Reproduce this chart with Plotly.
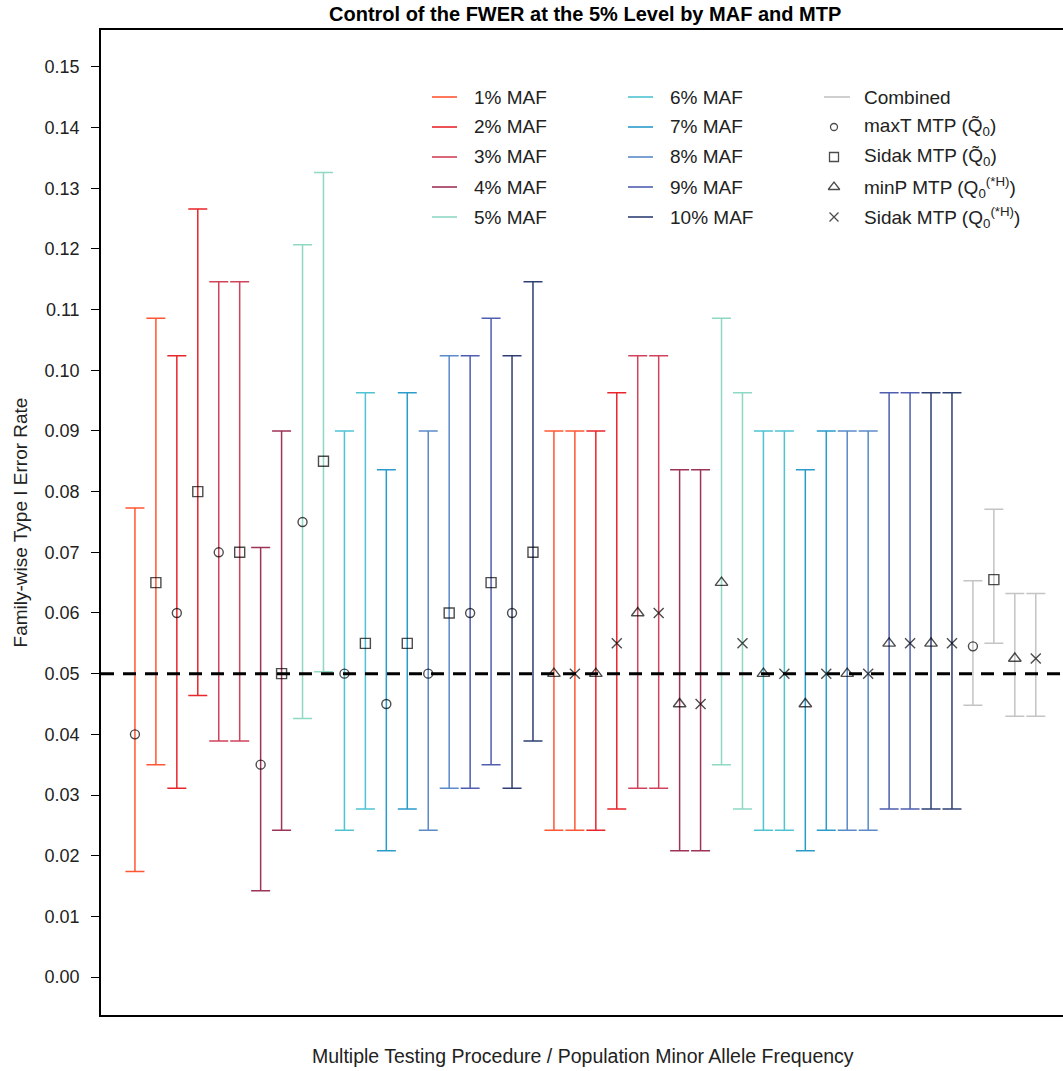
import plotly.graph_objects as go

# Simulation results: family-wise type I error rate with 95% CIs
maf_labels = ["1% MAF", "2% MAF", "3% MAF", "4% MAF", "5% MAF",
              "6% MAF", "7% MAF", "8% MAF", "9% MAF", "10% MAF"]
maf_colors = ["#FF5733", "#E8262B", "#D1435B", "#9E3358", "#8ED8C4",
              "#4EC3D2", "#2A9CCB", "#5B8AC9", "#4F5EB0", "#2E3F73"]
combined_color = "#C4C4C4"

maxT_rate = [0.040, 0.060, 0.070, 0.035, 0.075, 0.050, 0.045, 0.050, 0.060, 0.060]
maxT_lo = [0.0174, 0.0311, 0.0389, 0.0142, 0.0426, 0.0242, 0.0208, 0.0242, 0.0311, 0.0311]
maxT_hi = [0.0773, 0.1024, 0.1146, 0.0708, 0.1207, 0.0900, 0.0836, 0.0900, 0.1024, 0.1024]

sidak_rate = [0.065, 0.080, 0.070, 0.050, 0.085, 0.055, 0.055, 0.060, 0.065, 0.070]
sidak_lo = [0.0350, 0.0464, 0.0389, 0.0242, 0.0503, 0.0277, 0.0277, 0.0311, 0.0350, 0.0389]
sidak_hi = [0.1086, 0.1266, 0.1146, 0.0900, 0.1326, 0.0963, 0.0963, 0.1024, 0.1086, 0.1146]

minP_rate = [0.050, 0.050, 0.060, 0.045, 0.065, 0.050, 0.045, 0.050, 0.055, 0.055]
minP_lo = [0.0242, 0.0242, 0.0311, 0.0208, 0.0350, 0.0242, 0.0208, 0.0242, 0.0277, 0.0277]
minP_hi = [0.0900, 0.0900, 0.1024, 0.0836, 0.1086, 0.0900, 0.0836, 0.0900, 0.0963, 0.0963]

sidakH_rate = [0.050, 0.055, 0.060, 0.045, 0.055, 0.050, 0.050, 0.050, 0.055, 0.055]
sidakH_lo = [0.0242, 0.0277, 0.0311, 0.0208, 0.0277, 0.0242, 0.0242, 0.0242, 0.0277, 0.0277]
sidakH_hi = [0.0900, 0.0963, 0.1024, 0.0836, 0.0963, 0.0900, 0.0900, 0.0900, 0.0963, 0.0963]

combined_rate = [0.0545, 0.0655, 0.0525, 0.0525]
combined_lo = [0.0448, 0.0550, 0.0430, 0.0430]
combined_hi = [0.0653, 0.0771, 0.0632, 0.0632]

y_ticks = [i / 100 for i in range(16)]
nominal_level = 0.05

mtp_symbols = ["circle-open", "square-open", "triangle-up-open", "x-thin-open"]
mtp_sizes = [9, 10, 11, 10]

W, H = 1063, 1071
L, R, T, B = 101, 0, 30, 56
FONT = "Liberation Sans, Arial, sans-serif"

fig = go.Figure()


def add_group(xs, ys, lo, hi, color):
    fig.add_trace(go.Scatter(
        x=xs, y=ys, mode="markers", showlegend=False,
        marker=dict(symbol=mtp_symbols, size=mtp_sizes, color="black",
                    line=dict(color="black", width=1.4)),
        error_y=dict(type="data", symmetric=False,
                     array=[h - y for h, y in zip(hi, ys)],
                     arrayminus=[y - l for l, y in zip(lo, ys)],
                     color=color, thickness=1.5, width=9.5),
    ))


n = len(maf_labels)
for k in range(n):
    xs = [1 + 2 * k, 2 + 2 * k, 2 * n + 1 + 2 * k, 2 * n + 2 + 2 * k]
    ys = [maxT_rate[k], sidak_rate[k], minP_rate[k], sidakH_rate[k]]
    lo = [maxT_lo[k], sidak_lo[k], minP_lo[k], sidakH_lo[k]]
    hi = [maxT_hi[k], sidak_hi[k], minP_hi[k], sidakH_hi[k]]
    add_group(xs, ys, lo, hi, maf_colors[k])

add_group([4 * n + 1 + j for j in range(4)], combined_rate, combined_lo, combined_hi,
          combined_color)

# ---- legend, laid out in three columns on an overlay axis ----
def px_x(px):
    return (px - L) / (W - L - R)


def px_y(py):
    return 1 - (py - T) / (H - T - B)


LEG_SIZE = 19
row_y = [97, 127, 157, 187, 217]
shapes = []
annotations = []
for k, lab in enumerate(maf_labels):
    col = k // 5
    r = k % 5
    x0 = 432 if col == 0 else 628
    shapes.append(dict(type="line", xref="paper", yref="paper",
                       x0=px_x(x0), x1=px_x(x0 + 25), y0=px_y(row_y[r]), y1=px_y(row_y[r]),
                       line=dict(color=maf_colors[k], width=1.6)))
    annotations.append(dict(xref="paper", yref="paper", x=px_x(x0 + 40), y=px_y(row_y[r]),
                            xanchor="left", yanchor="middle", showarrow=False,
                            text=lab, font=dict(family=FONT, size=LEG_SIZE, color="#222")))

shapes.append(dict(type="line", xref="paper", yref="paper",
                   x0=px_x(824), x1=px_x(850), y0=px_y(row_y[0]), y1=px_y(row_y[0]),
                   line=dict(color=combined_color, width=1.6)))
mtp_labels = ["Combined",
              "maxT MTP (Q\u0303<sub>0</sub>)",
              "Sidak MTP (Q\u0303<sub>0</sub>)",
              "minP MTP (Q<sub>0</sub><sup>(*H)</sup>)",
              "Sidak MTP (Q<sub>0</sub><sup>(*H)</sup>)"]
for r, lab in enumerate(mtp_labels):
    annotations.append(dict(xref="paper", yref="paper", x=px_x(862), y=px_y(row_y[r]),
                            xanchor="left", yanchor="middle", showarrow=False,
                            text=lab, font=dict(family=FONT, size=LEG_SIZE, color="#222")))

fig.add_trace(go.Scatter(
    x=[px_x(834)] * 4, y=[px_y(v) for v in row_y[1:]], mode="markers",
    xaxis="x2", yaxis="y2", showlegend=False, hoverinfo="skip",
    marker=dict(symbol=mtp_symbols, size=[7, 9, 10, 9], color="black",
                line=dict(color="black", width=1.3)),
))

# nominal 5% level
shapes.append(dict(type="line", xref="paper", yref="y", x0=0, x1=1,
                   y0=nominal_level, y1=nominal_level, layer="above",
                   line=dict(color="black", width=3, dash="13px,9px")))

annotations.append(dict(xref="paper", yref="paper", x=px_x(583), y=px_y(1056),
                        xanchor="center", yanchor="middle", showarrow=False,
                        text="Multiple Testing Procedure / Population Minor Allele Frequency",
                        font=dict(family=FONT, size=19.5, color="#222")))
annotations.append(dict(xref="paper", yref="paper", x=px_x(585), y=px_y(14),
                        xanchor="center", yanchor="middle", showarrow=False,
                        text="<b>Control of the FWER at the 5% Level by MAF and MTP</b>",
                        font=dict(family=FONT, size=20, color="black")))

fig.update_layout(
    width=W, height=H,
    margin=dict(l=L, r=R, t=T, b=B),
    paper_bgcolor="white", plot_bgcolor="white",
    showlegend=False,
    xaxis=dict(range=[-0.62, 45.3], showgrid=False, zeroline=False,
               showticklabels=False, ticks="", showline=True, mirror=True,
               linecolor="black", linewidth=1.5),
    yaxis=dict(range=[-0.00626, 0.15609], tickvals=y_ticks, tickformat=".2f",
               showgrid=False, zeroline=False, ticks="outside", ticklen=8,
               tickcolor="black", tickwidth=1.2, showline=True, mirror=False,
               linecolor="black", linewidth=1.5, ticklabelstandoff=8,
               tickfont=dict(family=FONT, size=18, color="#222"),
               title=dict(text="Family-wise Type I Error Rate", standoff=12,
                          font=dict(family=FONT, size=19, color="#222"))),
    xaxis2=dict(range=[0, 1], overlaying="x", visible=False),
    yaxis2=dict(range=[0, 1], overlaying="y", visible=False),
    shapes=shapes, annotations=annotations,
)

fig.write_html("out.html")
